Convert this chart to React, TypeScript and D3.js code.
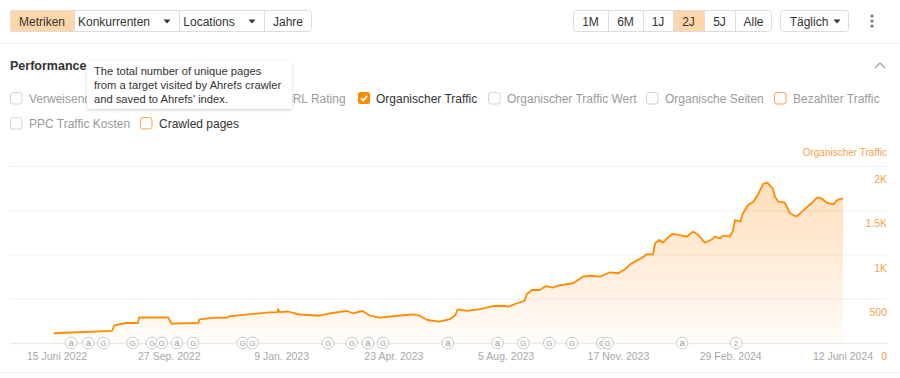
import React from "react";
import * as d3 from "d3";

const trafficDates = [
  "2022-06-12", "2022-08-05", "2022-08-07", "2022-08-18", "2022-08-29", "2022-08-30",
  "2022-09-26", "2022-09-29", "2022-10-24", "2022-10-25", "2022-11-06", "2022-11-20",
  "2022-11-21", "2022-12-29", "2023-01-05", "2023-01-06", "2023-01-07", "2023-01-15",
  "2023-01-20", "2023-01-26", "2023-02-13", "2023-02-23", "2023-03-11", "2023-03-16",
  "2023-03-25", "2023-04-01", "2023-04-10", "2023-04-27", "2023-05-11", "2023-05-17",
  "2023-05-24", "2023-06-04", "2023-06-14", "2023-06-19", "2023-06-21", "2023-06-30",
  "2023-07-12", "2023-07-24", "2023-08-02", "2023-08-07", "2023-08-15", "2023-08-22",
  "2023-08-24", "2023-08-29", "2023-09-05", "2023-09-11", "2023-09-17", "2023-09-22",
  "2023-10-06", "2023-10-15", "2023-10-22", "2023-10-31", "2023-11-09", "2023-11-17",
  "2023-11-23", "2023-11-28", "2023-12-02", "2023-12-09", "2023-12-13", "2023-12-19",
  "2023-12-21", "2023-12-25", "2023-12-28", "2024-01-01", "2024-01-06", "2024-01-13",
  "2024-01-19", "2024-01-25", "2024-01-29", "2024-02-03", "2024-02-05", "2024-02-12",
  "2024-02-14", "2024-02-19", "2024-02-22", "2024-02-28", "2024-03-02", "2024-03-04",
  "2024-03-09", "2024-03-11", "2024-03-16", "2024-03-21", "2024-03-25", "2024-03-30",
  "2024-04-03", "2024-04-05", "2024-04-08", "2024-04-10", "2024-04-13", "2024-04-19",
  "2024-04-24", "2024-04-30", "2024-05-05", "2024-05-10", "2024-05-14", "2024-05-19",
  "2024-05-23", "2024-05-28", "2024-06-03", "2024-06-07", "2024-06-12",
];
const trafficValues = [
  110, 136, 198, 226, 226, 290,
  288, 218, 226, 268, 283, 288,
  300, 347, 350, 384, 350, 356,
  339, 322, 308, 336, 362, 336,
  362, 308, 286, 308, 324, 308,
  260, 241, 271, 316, 381, 362,
  384, 418, 421, 410, 449, 475,
  550, 599, 599, 644, 625, 648,
  675, 749, 760, 749, 799, 788,
  833, 889, 919, 964, 1002, 1002,
  1127, 1164, 1133, 1183, 1232, 1220,
  1201, 1258, 1232, 1164, 1133, 1172,
  1201, 1183, 1213, 1201, 1266, 1390,
  1371, 1458, 1559, 1597, 1672, 1797,
  1811, 1785, 1748, 1653, 1597, 1585,
  1466, 1427, 1484, 1540, 1579, 1646,
  1635, 1585, 1567, 1616, 1635,
];

const xTickDates = [
  "2022-06-15", "2022-09-27", "2023-01-09", "2023-04-23",
  "2023-08-05", "2023-11-17", "2024-02-29", "2024-06-12",
];
const xTickLabels = [
  "15 Juni 2022", "27 Sep. 2022", "9 Jan. 2023", "23 Apr. 2023",
  "5 Aug. 2023", "17 Nov. 2023", "29 Feb. 2024", "12 Juni 2024",
];
const yTicks = [0, 500, 1000, 1500, 2000];
const yTickLabels = ["0", "500", "1K", "1.5K", "2K"];

const eventDates = [
  "2022-06-28", "2022-07-14", "2022-07-28", "2022-08-24", "2022-09-11", "2022-09-20",
  "2022-10-04", "2022-10-19", "2022-12-04", "2022-12-13", "2023-02-21", "2023-03-15",
  "2023-03-30", "2023-04-13", "2023-06-12", "2023-07-28", "2023-08-21", "2023-09-14",
  "2023-10-05", "2023-11-02", "2023-11-07", "2024-01-15", "2024-03-05",
];
const eventLetters = [
  "a", "a", "G", "G", "G", "G",
  "a", "G", "G", "G", "G", "G",
  "a", "G", "a", "a", "G", "G",
  "G", "G", "G", "a", "2",
];

const topButtons = ["Metriken", "Konkurrenten", "Locations", "Jahre"];
const rangeButtons = ["1M", "6M", "1J", "2J", "5J", "Alle"];
const row1Labels = [
  "Verweisende Domains", "URL Rating", "Organischer Traffic",
  "Organischer Traffic Wert", "Organische Seiten", "Bezahlter Traffic",
];
const row2Labels = ["PPC Traffic Kosten", "Crawled pages"];
const tooltipLines = [
  "The total number of unique pages",
  "from a target visited by Ahrefs crawler",
  "and saved to Ahrefs' index.",
];

const FONT = "'Liberation Sans', Arial, sans-serif";
const ORANGE = "#ff8b00";
const LABEL_ORANGE = "#f7a14b";

const parse = d3.utcParse("%Y-%m-%d");

function Checkbox({ x, y, kind }: { x: number; y: number; kind: string }) {
  if (kind === "checked") {
    return (
      <g>
        <rect x={x} y={y} width={12} height={12} rx={2.5} fill={ORANGE} />
        <path d={`M${x + 3} ${y + 6.2} L${x + 5.2} ${y + 8.5} L${x + 9.2} ${y + 3.8}`} fill="none" stroke="#fff" strokeWidth={1.8} />
      </g>
    );
  }
  return (
    <rect x={x + 0.5} y={y + 0.5} width={11.5} height={11.5} rx={2.5} fill="#fff"
      stroke={kind === "orange" ? "#f9a04a" : "#d4d4d4"} strokeWidth={1} />
  );
}

export default function App() {
  const x = d3.scaleUtc()
    .domain([parse("2022-06-15")!, parse("2024-06-12")!])
    .range([57, 843]);
  const y = d3.scaleLinear().domain([0, 2000]).range([343, 166]);

  const pts = trafficDates.map((d, i) => [parse(d)!, trafficValues[i]] as [Date, number]);
  const line = d3.line<[Date, number]>().x((d) => x(d[0])).y((d) => y(d[1]));
  const area = d3.area<[Date, number]>().x((d) => x(d[0])).y0(y(0)).y1((d) => y(d[1]));

  // layout of controls
  const topSeg = [10, 74, 179, 264, 312];
  const topArrow = [null, 167, 252, null];
  const topTextX = [42, 119, 214, 288];
  const rangeSeg = [573, 608, 643, 673, 704, 735, 772];
  const row1Box = [10, 268, 358, 488, 646, 774];
  const row1Kind = ["grey", "grey", "checked", "grey", "grey", "orange"];
  const row1Color = ["#9a9a9a", "#9a9a9a", "#333", "#9a9a9a", "#9a9a9a", "#9a9a9a"];
  const row1Clip = ["clipLeft", "clipRight", null, null, null, null];
  const row2Box = [10, 140];
  const row2Kind = ["grey", "orange"];
  const row2Color = ["#9a9a9a", "#333"];

  return (
    <svg width={900} height={378} style={{ position: "absolute", left: 0, top: 0, fontFamily: FONT }}>
      <defs>
        <linearGradient id="fillGrad" gradientUnits="userSpaceOnUse" x1={0} y1={166} x2={0} y2={343}>
          <stop offset="0%" stopColor="#ff9a2e" stopOpacity={0.36} />
          <stop offset="100%" stopColor="#ff9a2e" stopOpacity={0.03} />
        </linearGradient>
        <filter id="shadow" x="-10%" y="-20%" width="120%" height="150%">
          <feDropShadow dx={0} dy={1} stdDeviation={1.5} floodColor="#000" floodOpacity={0.2} />
        </filter>
        <clipPath id="clipLeft"><rect x={0} y={80} width={87} height={30} /></clipPath>
        <clipPath id="clipRight"><rect x={292} y={80} width={80} height={30} /></clipPath>
      </defs>
      <rect x={0} y={0} width={900} height={378} fill="#fff" />

      {/* top button group */}
      <rect x={topSeg[0]} y={10} width={topSeg[1] - topSeg[0]} height={22} rx={3} fill="#fed6a9" />
      <rect x={topSeg[0] + 0.5} y={10.5} width={topSeg[4] - topSeg[0] - 1} height={21} rx={3} fill="none" stroke="#dcdcdc" />
      {topSeg.slice(1, 4).map((s, i) => (
        <line key={i} x1={s + 0.5} x2={s + 0.5} y1={11} y2={31} stroke="#dcdcdc" />
      ))}
      {topButtons.map((t, i) => (
        <g key={t}>
          <text x={topArrow[i] ? topTextX[i] - 5 : topTextX[i]} y={25.5} fontSize={12} fill="#333" textAnchor="middle">{t}</text>
          {topArrow[i] && <path d={`M${topArrow[i]! - 3.5} ${19.5} L${topArrow[i]! + 3.5} ${19.5} L${topArrow[i]!} ${23.5} Z`} fill="#333" />}
        </g>
      ))}

      {/* range buttons */}
      <rect x={rangeSeg[3]} y={10} width={rangeSeg[4] - rangeSeg[3]} height={22} fill="#fed6a9" />
      <rect x={rangeSeg[0] + 0.5} y={10.5} width={rangeSeg[6] - rangeSeg[0] - 1} height={21} rx={3} fill="none" stroke="#dcdcdc" />
      {rangeSeg.slice(1, 6).map((s, i) => (
        <line key={i} x1={s + 0.5} x2={s + 0.5} y1={11} y2={31} stroke="#dcdcdc" />
      ))}
      {rangeButtons.map((t, i) => (
        <text key={t} x={(rangeSeg[i] + rangeSeg[i + 1]) / 2} y={25.5} fontSize={12} fill="#333" textAnchor="middle">{t}</text>
      ))}
      <rect x={780.5} y={10.5} width={68} height={21} rx={3} fill="#fff" stroke="#dcdcdc" />
      <text x={809} y={25.5} fontSize={12} fill="#333" textAnchor="middle">Täglich</text>
      <path d="M833.5 19.5 L840.5 19.5 L837 23.5 Z" fill="#333" />
      {[16, 21, 26].map((cy) => (
        <circle key={cy} cx={872} cy={cy} r={1.6} fill="#777" />
      ))}

      <line x1={0} x2={900} y1={43.5} y2={43.5} stroke="#eeeeee" />

      <text x={10} y={69.5} fontSize={12.5} fontWeight="bold" fill="#333">Performance</text>
      <path d="M875 68 L880 63 L885 68" fill="none" stroke="#aaa" strokeWidth={1.5} />

      {/* legend checkboxes */}
      {row1Labels.map((t, i) => (
        <g key={t}>
          <Checkbox x={row1Box[i]} y={92} kind={row1Kind[i]} />
          <text x={row1Box[i] + (i === 1 ? 16 : i === 2 ? 18 : 19)} y={102.5} fontSize={12} fill={row1Color[i]}
            clipPath={row1Clip[i] ? `url(#${row1Clip[i]})` : undefined}>{t}</text>
        </g>
      ))}
      {row2Labels.map((t, i) => (
        <g key={t}>
          <Checkbox x={row2Box[i]} y={117} kind={row2Kind[i]} />
          <text x={row2Box[i] + 19} y={127.5} fontSize={12} fill={row2Color[i]}>{t}</text>
        </g>
      ))}

      {/* tooltip */}
      <rect x={87} y={61} width={205} height={48} rx={3} fill="#fff" filter="url(#shadow)" />
      {tooltipLines.map((t, i) => (
        <text key={i} x={94} y={75 + i * 14} fontSize={11.2} fill="#333">{t}</text>
      ))}

      {/* chart */}
      <text x={887} y={156} fontSize={10} fill={LABEL_ORANGE} textAnchor="end">Organischer Traffic</text>
      {yTicks.map((v, i) => (
        <g key={v}>
          <line x1={10} x2={887} y1={y(v) + 0.5} y2={y(v) + 0.5} stroke={v === 0 ? "#ececec" : "#efefef"} strokeWidth={v === 0 ? 1.5 : 1} />
          <text x={887} y={y(v) + 17} fontSize={10.5} fill={LABEL_ORANGE} textAnchor="end">{yTickLabels[i]}</text>
        </g>
      ))}
      <path d={area(pts)!} fill="url(#fillGrad)" />
      <path d={line(pts)!} fill="none" stroke={ORANGE} strokeWidth={1.8} strokeLinejoin="round" />

      {xTickDates.map((d, i) => (
        <text key={d} x={x(parse(d)!)} y={360} fontSize={10.5} fill="#a8a8a8" textAnchor="middle">{xTickLabels[i]}</text>
      ))}

      {eventDates.map((d, i) => (
        <g key={i}>
          <circle cx={x(parse(d)!)} cy={343} r={5.8} fill="#fff" stroke="#c9c9c9" strokeWidth={1} />
          <text x={x(parse(d)!)} y={346} fontSize={eventLetters[i] === "a" ? 9.5 : 8} fill="#999" textAnchor="middle">{eventLetters[i]}</text>
        </g>
      ))}

      <line x1={0} x2={900} y1={372.5} y2={372.5} stroke="#eeeeee" />
    </svg>
  );
}
